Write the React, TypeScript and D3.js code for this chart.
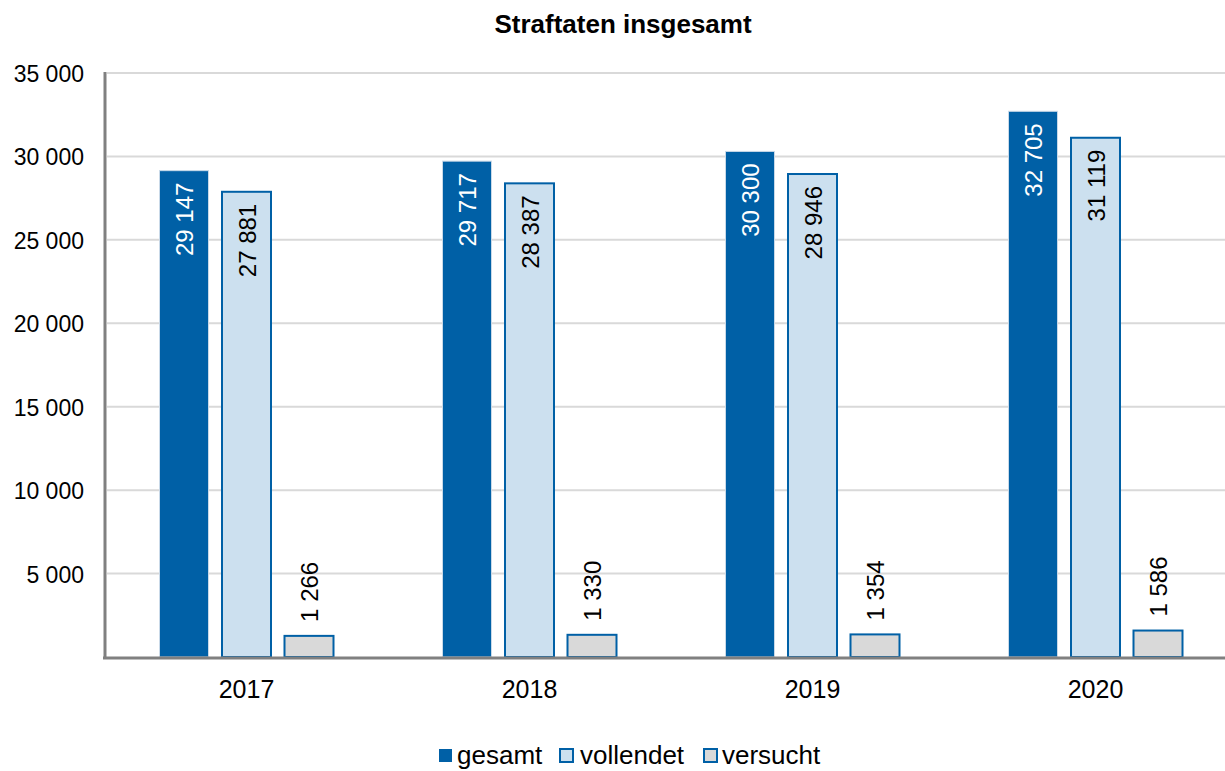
import React from 'react';
import * as d3 from 'd3';

const years = ["2017", "2018", "2019", "2020"];
const seriesNames = ["gesamt", "vollendet", "versucht"];
const gesamt = [29147, 29717, 30300, 32705];
const vollendet = [27881, 28387, 28946, 31119];
const versucht = [1266, 1330, 1354, 1586];
const yTicks = [5000, 10000, 15000, 20000, 25000, 30000, 35000];

const blue = "#0060a6";
const fills = [blue, "#cce0ef", "#d9d9d9"];

const fmt = (v: number) => d3.format(",")(v).replace(/,/g, " ");

const App = () => {
    const width = 1225;
    const height = 771;
    const left = 105, right = 1237, top = 73, bottom = 657;
    const font = "'Liberation Sans', Arial, sans-serif";

    const x = d3.scaleBand().domain(years).range([left, right]).paddingInner(0).paddingOuter(0);
    const y = d3.scaleLinear().domain([0, 35000]).range([bottom, top]);
    // bars within one year group
    const inner = d3.scaleBand().domain(seriesNames).range([-87, 87]).paddingInner(0.216);
    const data = [gesamt, vollendet, versucht];

    return (
        <svg width={width} height={height} style={{ display: 'block', position: 'absolute', left: 0, top: 0 }} fontFamily={font}>
            <text x={623} y={33} textAnchor="middle" fontSize={26} fontWeight="bold">Straftaten insgesamt</text>
            {yTicks.map(t => (
                <g key={t}>
                    <line x1={left + 2} x2={width} y1={y(t)} y2={y(t)} stroke="#d9d9d9" strokeWidth={2} />
                    <text x={84} y={y(t) + 9} textAnchor="end" fontSize={23}>{fmt(t)}</text>
                </g>
            ))}
            {years.map((yr, i) => {
                const cx = (x(yr) as number) + x.bandwidth() / 2;
                return (
                    <g key={yr}>
                        {seriesNames.map((s, j) => {
                            const v = data[j][i];
                            const bx = cx + (inner(s) as number);
                            const bw = inner.bandwidth();
                            const by = y(v);
                            const lx = bx + bw / 2;
                            const outside = j === 2;
                            const ly = outside ? by - 14 : by + 12;
                            return (
                                <g key={s}>
                                    <rect x={bx} y={by} width={bw} height={bottom - by}
                                        fill={fills[j]} stroke={j === 0 ? "#c9d9e8" : blue} strokeWidth={j === 0 ? 1 : 2} />
                                    <text transform={`translate(${lx + 9},${ly}) rotate(-90)`}
                                        textAnchor={outside ? "start" : "end"} fontSize={24}
                                        fill={j === 0 ? "#ffffff" : "#000000"}>{fmt(v)}</text>
                                </g>
                            );
                        })}
                        <text x={cx} y={698} textAnchor="middle" fontSize={25}>{yr}</text>
                    </g>
                );
            })}
            <line x1={left} x2={left} y1={top - 1} y2={bottom + 2} stroke="#808080" strokeWidth={3} />
            <line x1={left - 2} x2={width} y1={bottom + 1} y2={bottom + 1} stroke="#808080" strokeWidth={3} />
            {seriesNames.map((s, j) => {
                const lx = [438, 559, 703][j];
                const tx = [457, 580, 722][j];
                return (
                    <g key={s}>
                        <rect x={lx + 1} y={749} width={13} height={13} fill={fills[j]} stroke={blue} strokeWidth={j === 0 ? 0 : 2} />
                        <text x={tx} y={764} fontSize={26}>{s}</text>
                    </g>
                );
            })}
        </svg>
    );
};

export default App;
